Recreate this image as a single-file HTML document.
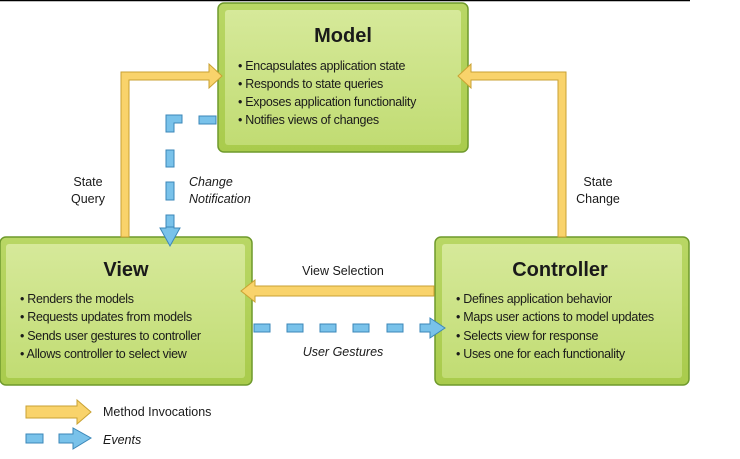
<!DOCTYPE html>
<html><head><style>
html,body{margin:0;padding:0;background:#fff;width:740px;height:459px;overflow:hidden}
svg text{font-family:"Liberation Sans",sans-serif;fill:#1a1a1a}
</style></head><body>
<svg width="740" height="459" viewBox="0 0 740 459">
<defs>
<linearGradient id="g" x1="0" y1="0" x2="0" y2="1">
<stop offset="0" stop-color="#b9d765"/><stop offset="1" stop-color="#a9cb4c"/></linearGradient>
<linearGradient id="gi" x1="0" y1="0" x2="0" y2="1">
<stop offset="0" stop-color="#d6e99a"/><stop offset="1" stop-color="#c1dc73"/></linearGradient>
</defs>
<line x1="0" y1="0.5" x2="690" y2="0.5" stroke="#000" stroke-width="1.5"/>
<!-- boxes -->
<g stroke="#6f9a2c" stroke-width="1.5">
<rect x="218" y="3" width="250" height="149" rx="6" fill="url(#g)"/>
<rect x="0" y="237" width="252" height="148" rx="6" fill="url(#g)"/>
<rect x="435" y="237" width="254" height="148" rx="6" fill="url(#g)"/>
</g>
<g fill="url(#gi)">
<rect x="225" y="10" width="236" height="135" rx="3"/>
<rect x="6" y="244" width="239" height="134" rx="3"/>
<rect x="442" y="244" width="240" height="134" rx="3"/>
</g>
<!-- yellow connectors -->
<g fill="#f9d36b" stroke="#c9a233" stroke-width="1">
<path d="M121 237 V72 H209 V64 L222 76 L209 88 V80 H129 V237 Z"/>
<path d="M566 237 V72 H471 V64 L458 76 L471 88 V80 H558 V237 Z"/>
<path d="M434 286 H255 V280 L241 291 L255 302 V296 H434 Z"/>
<path d="M26 406 H77 V400 L91 412 L77 424 V418 H26 Z"/>
</g>
<!-- blue events -->
<g fill="#79c2ea" stroke="#3b87b8" stroke-width="1">
<path d="M166 115 H182 V123 H174 V132 H166 Z"/>
<rect x="199" y="116" width="17" height="8"/>
<rect x="166" y="150" width="8" height="17"/>
<rect x="166" y="182" width="8" height="18"/>
<rect x="166" y="215" width="8" height="12"/>
<path d="M166 227 H174 V228 H180 L170 246 L160 228 H166 Z"/>
<rect x="254" y="324" width="16" height="8"/>
<rect x="287" y="324" width="16" height="8"/>
<rect x="320" y="324" width="16" height="8"/>
<rect x="353" y="324" width="16" height="8"/>
<rect x="387" y="324" width="16" height="8"/>
<path d="M420 324 H430 V318 L445 328 L430 338 V332 H420 Z"/>
<rect x="26" y="434" width="17" height="9"/>
<path d="M59 434 H73 V428 L91 438 L73 449 V443 H59 Z"/>
</g>
<g font-size="20" font-weight="bold" text-anchor="middle">
<text x="343" y="42">Model</text>
<text x="126" y="276">View</text>
<text x="560" y="276">Controller</text>
</g>
<g font-size="12.5" letter-spacing="-0.3">
<text x="238" y="70">• Encapsulates application state</text>
<text x="238" y="88">• Responds to state queries</text>
<text x="238" y="106">• Exposes application functionality</text>
<text x="238" y="124">• Notifies views of changes</text>
<text x="20" y="303">• Renders the models</text>
<text x="20" y="321">• Requests updates from models</text>
<text x="20" y="340">• Sends user gestures to controller</text>
<text x="20" y="358">• Allows controller to select view</text>
<text x="456" y="303">• Defines application behavior</text>
<text x="456" y="321">• Maps user actions to model updates</text>
<text x="456" y="340">• Selects view for response</text>
<text x="456" y="358">• Uses one for each functionality</text>
</g>
<g font-size="12.5">
<text x="88" y="186" text-anchor="middle">State</text>
<text x="88" y="203" text-anchor="middle">Query</text>
<text x="598" y="186" text-anchor="middle">State</text>
<text x="598" y="203" text-anchor="middle">Change</text>
<text x="189" y="186" font-style="italic">Change</text>
<text x="189" y="203" font-style="italic">Notification</text>
<text x="343" y="275" text-anchor="middle">View Selection</text>
<text x="343" y="356" text-anchor="middle" font-style="italic">User Gestures</text>
<text x="103" y="416">Method Invocations</text>
<text x="103" y="444" font-style="italic">Events</text>
</g>
</svg>
</body></html>
